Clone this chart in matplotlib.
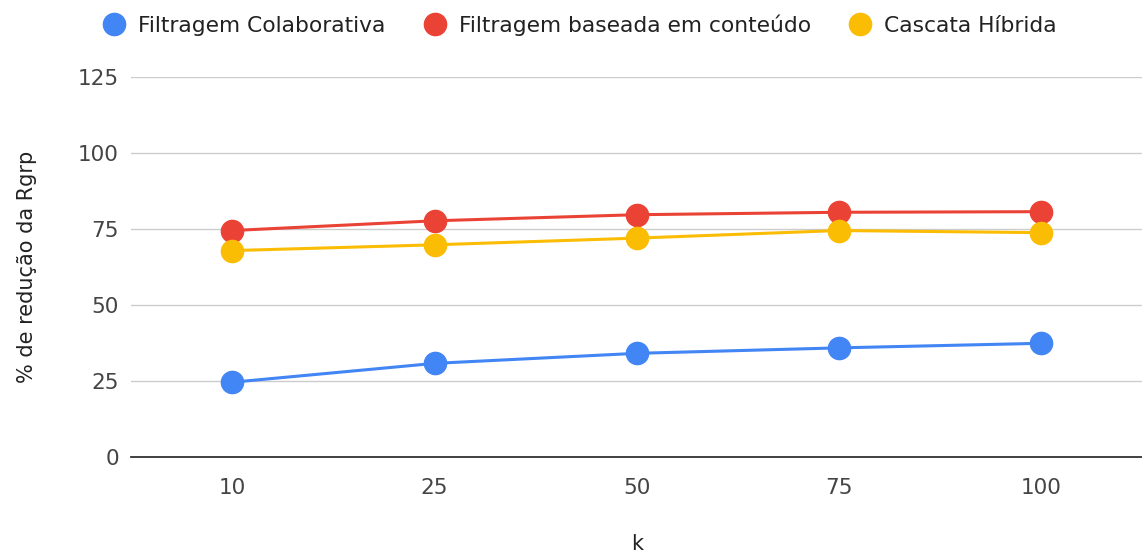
import matplotlib
matplotlib.use('Agg')
import matplotlib.pyplot as plt

# data
k_labels = ['10', '25', '50', '75', '100']
colaborativa = [24.6, 30.8, 34.1, 35.9, 37.4]
conteudo = [74.5, 77.7, 79.7, 80.5, 80.7]
hibrida = [67.9, 69.8, 72.0, 74.5, 73.8]
y_ticks = [0, 25, 50, 75, 100, 125]

series = [
    ('Filtragem Colaborativa', colaborativa, '#4285F4'),
    ('Filtragem baseada em conteúdo', conteudo, '#EA4335'),
    ('Cascata Híbrida', hibrida, '#FBBC04'),
]

# the source picture's text is wide, DejaVu matches its metrics best
plt.rcParams['font.family'] = ['DejaVu Sans']

fig = plt.figure(figsize=(11.42, 5.58), dpi=100)
ax = fig.add_axes([0.115, 0.181, 0.885, 0.681])

x = list(range(len(k_labels)))
handles = []
for name, vals, col in series:
    ax.plot(x, vals, color=col, lw=2.2, zorder=3)
    ax.plot(x, vals, 'o', color=col, ms=16, zorder=4)
    h, = ax.plot([], [], 'o', color=col, ms=16, label=name)
    handles.append(h)

ax.set_xlim(-0.5, 4.5)
ax.set_ylim(0, 125)
ax.set_yticks(y_ticks)
ax.set_xticks(x)
ax.set_xticklabels(k_labels)
ax.grid(axis='y', color='#cccccc', lw=1)
ax.set_axisbelow(True)
for s in ['top', 'right', 'left']:
    ax.spines[s].set_visible(False)
ax.spines['bottom'].set_color('#333333')
ax.spines['bottom'].set_linewidth(1.3)
ax.tick_params(axis='both', length=0, labelsize=15.5, colors='#444444')
ax.tick_params(axis='y', pad=9)
ax.tick_params(axis='x', pad=15)

ax.set_xlabel('k', fontsize=15, color='#222222', labelpad=26)
ax.set_ylabel('% de redução da Rgrp', fontsize=15, color='#222222', labelpad=29)

fig.legend(handles=handles, loc='upper center', bbox_to_anchor=(0.507, 1.01), ncol=3,
           frameon=False, fontsize=15.7, handletextpad=0.5, columnspacing=1.65,
           handlelength=1.2, labelcolor='#222222')

fig.savefig('out.png', dpi=100)
